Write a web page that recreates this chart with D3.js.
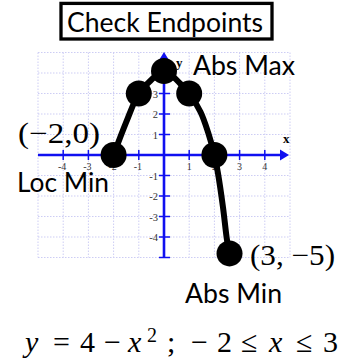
<!DOCTYPE html>
<html>
<head>
<meta charset="utf-8">
<script src="https://cdn.jsdelivr.net/npm/d3@7/dist/d3.min.js"></script>
<style>
  html, body { margin: 0; padding: 0; background: #fff; }
</style>
</head>
<body>
<script>
const w = 358;
const h = 362;

// grid / axis values
const gridValues = [-5, -4, -3, -2, -1, 0, 1, 2, 3, 4, 5];
const xTickValues = [-4, -3, -2, -1, 1, 2, 3, 4];
const yTickValues = [-5, -4, -3, -2, -1, 1, 2, 3, 4];
const yTickLabels = [-4, -3, -2, -1, 1, 2, 3, 4];

// plotted curve (as drawn in the picture)
const curveX = [-2, -1.5, -1, -0.6, 0, 0.63, 1, 1.45, 1.75, 2, 2.14, 2.34, 2.5, 2.6];
const curveY = [0, 1.6, 3, 3.55, 4.1, 3.5, 3, 2.1, 1.1, 0, -0.88, -2.54, -4.15, -4.8];

// highlighted points
const dotX = [-2, -1, 0, 1, 2, 2.6];
const dotY = [0, 3, 4.1, 3, 0, -4.8];

const xScale = d3.scaleLinear().domain([-5, 5]).range([38, 290]);
const yScale = d3.scaleLinear().domain([-5, 5]).range([257.5, 52.5]);

const svg = d3.select("body")
              .append("svg")
              .attr("width", w)
              .attr("height", h);

// grid
const grid = svg.append("g")
                .attr("stroke", "#cdcdf4")
                .attr("stroke-width", 1)
                .attr("stroke-dasharray", "1.5,1.5");

grid.selectAll(".vg")
    .data(gridValues)
    .enter()
    .append("line")
    .attr("x1", d => xScale(d))
    .attr("x2", d => xScale(d))
    .attr("y1", yScale(5))
    .attr("y2", yScale(-5));

grid.selectAll(".hg")
    .data(gridValues)
    .enter()
    .append("line")
    .attr("x1", xScale(-5))
    .attr("x2", xScale(5))
    .attr("y1", d => yScale(d))
    .attr("y2", d => yScale(d));

// axes
const blue = "#1010f0";
const x0 = xScale(0);
const y0 = yScale(0);

svg.append("line")
   .attr("x1", xScale(-5)).attr("x2", xScale(5) - 6)
   .attr("y1", y0).attr("y2", y0)
   .attr("stroke", blue).attr("stroke-width", 2.6);

svg.append("path")
   .attr("d", `M${xScale(5) - 1},${y0} l-9,-5.5 l0,11 z`)
   .attr("fill", blue);

svg.append("line")
   .attr("x1", x0).attr("x2", x0)
   .attr("y1", yScale(-5)).attr("y2", yScale(5) + 6)
   .attr("stroke", blue).attr("stroke-width", 2.6);

svg.append("path")
   .attr("d", `M${x0},${yScale(5) - 0.5} l-5.5,9 l11,0 z`)
   .attr("fill", blue);

svg.selectAll(".xt")
   .data(xTickValues)
   .enter()
   .append("line")
   .attr("x1", d => xScale(d)).attr("x2", d => xScale(d))
   .attr("y1", y0 - 5).attr("y2", y0 + 5)
   .attr("stroke", blue).attr("stroke-width", 1.5);

svg.selectAll(".yt")
   .data(yTickValues)
   .enter()
   .append("line")
   .attr("x1", x0 - 5).attr("x2", x0 + 6)
   .attr("y1", d => yScale(d)).attr("y2", d => yScale(d))
   .attr("stroke", blue).attr("stroke-width", 1.5);

svg.selectAll(".xl")
   .data(xTickValues)
   .enter()
   .append("text")
   .attr("x", d => xScale(d) - (d < 0 ? 1 : 0))
   .attr("y", y0 + 14.5)
   .attr("text-anchor", "middle")
   .attr("font-family", "Liberation Serif")
   .attr("font-size", 10)
   .attr("fill", "#333")
   .text(d => d < 0 ? "-" + Math.abs(d) : d);

svg.selectAll(".yl")
   .data(yTickLabels)
   .enter()
   .append("text")
   .attr("x", x0 - 6)
   .attr("y", d => yScale(d) + 4)
   .attr("text-anchor", "end")
   .attr("font-family", "Liberation Serif")
   .attr("font-size", 10.5)
   .attr("fill", "#333")
   .text(d => d < 0 ? "-" + Math.abs(d) : d);

svg.append("text")
   .attr("x", 283).attr("y", 143)
   .attr("font-family", "Liberation Serif")
   .attr("font-weight", "bold")
   .attr("font-size", 13)
   .text("x");

svg.append("text")
   .attr("x", 176).attr("y", 67)
   .attr("font-family", "Liberation Serif")
   .attr("font-weight", "bold")
   .attr("font-size", 13)
   .text("y");

// curve
const curveData = curveX.map((d, i) => [d, curveY[i]]);
const line = d3.line()
               .x(d => xScale(d[0]))
               .y(d => yScale(d[1]))
               .curve(d3.curveCatmullRom);

svg.append("path")
   .datum(curveData)
   .attr("d", line)
   .attr("fill", "none")
   .attr("stroke", "#000")
   .attr("stroke-width", 6)
   .attr("stroke-linecap", "round")
   .attr("stroke-linejoin", "round");

svg.selectAll(".dot")
   .data(dotX.map((d, i) => [d, dotY[i]]))
   .enter()
   .append("circle")
   .attr("cx", d => xScale(d[0]))
   .attr("cy", d => yScale(d[1]))
   .attr("r", 13)
   .attr("fill", "#000");

// title box
svg.append("rect")
   .attr("x", 61).attr("y", 3.4)
   .attr("width", 211).attr("height", 35.6)
   .attr("fill", "#fff")
   .attr("stroke", "#000")
   .attr("stroke-width", 3.3);

const sans = "Lato, 'Open Sans', sans-serif";
const serif = "'Liberation Serif', 'DejaVu Serif', serif";

function label(txt, x, y, len, size, family) {
  svg.append("text")
     .attr("x", x).attr("y", y)
     .attr("font-family", family)
     .attr("font-size", size)
     .attr("textLength", len)
     .attr("lengthAdjust", "spacingAndGlyphs")
     .text(txt);
}

label("Check Endpoints", 67, 31.5, 196, 26, sans);
label("Abs Max", 193, 75, 102, 26, sans);
label("Loc Min", 17, 192, 92, 26, sans);
label("Abs Min", 185, 303, 97, 26, sans);
label("(\u22122,0)", 18, 143, 82, 29, serif);
label("(3, \u22125)", 250, 265, 85, 29, serif);

// equation: pieces and their left edges
const eqParts = [
  { t: "y", x: 25, it: true },
  { t: "=", x: 53 },
  { t: "4", x: 80 },
  { t: "\u2212", x: 104 },
  { t: "x", x: 128, it: true },
  { t: "2", x: 147, sup: true },
  { t: ";", x: 167 },
  { t: "\u2212", x: 191 },
  { t: "2", x: 217 },
  { t: "\u2264", x: 241 },
  { t: "x", x: 269, it: true },
  { t: "\u2264", x: 296 },
  { t: "3", x: 323 }
];

const eq = svg.append("text")
              .attr("font-family", serif)
              .attr("font-size", 30);

eqParts.forEach(p => {
  eq.append("tspan")
    .attr("x", p.x)
    .attr("y", p.sup ? 342 : 352)
    .attr("font-style", p.it ? "italic" : "normal")
    .attr("font-size", p.sup ? 20 : 30)
    .text(p.t);
});
</script>
</body>
</html>
